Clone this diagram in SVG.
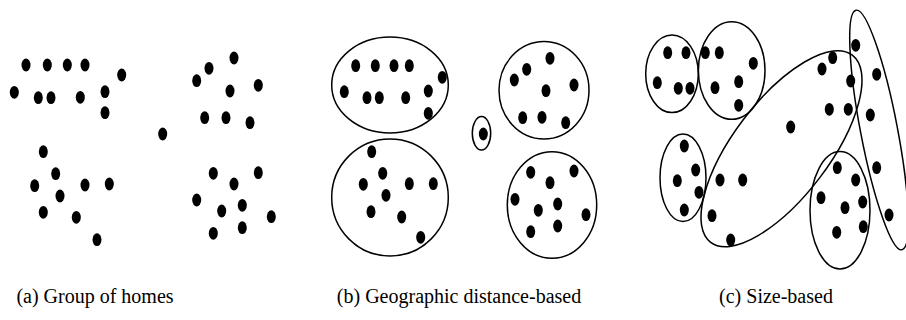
<svg xmlns="http://www.w3.org/2000/svg" width="906" height="320" viewBox="0 0 906 320">
<style>
.c{fill:none;stroke:#000;stroke-width:1.5}
.lbl{font-family:"Liberation Serif","Times New Roman","DejaVu Serif",serif;font-size:20px;fill:#000;text-anchor:middle}
</style>
<defs><ellipse id="h" cx="0" cy="0" rx="4.5" ry="6.4" fill="#000"/></defs>
<rect width="906" height="320" fill="#fff"/>
<g id="panel-a">
<use href="#h" x="26" y="65"/><use href="#h" x="47.3" y="65"/><use href="#h" x="67.3" y="65"/><use href="#h" x="85" y="65"/><use href="#h" x="121.7" y="75"/>
<use href="#h" x="14.3" y="92.3"/><use href="#h" x="38.3" y="97.7"/><use href="#h" x="51" y="97.7"/><use href="#h" x="80.3" y="97.3"/><use href="#h" x="105" y="91.7"/><use href="#h" x="105" y="112.7"/>
<use href="#h" x="234" y="58"/><use href="#h" x="209" y="68.3"/><use href="#h" x="196.7" y="80.7"/><use href="#h" x="230" y="91"/><use href="#h" x="258.3" y="85.3"/><use href="#h" x="204.7" y="117.7"/><use href="#h" x="226" y="117.7"/><use href="#h" x="250" y="122.7"/>
<use href="#h" x="162.7" y="134"/>
<use href="#h" x="43.3" y="151.7"/><use href="#h" x="55.7" y="173.7"/><use href="#h" x="34.7" y="185.7"/><use href="#h" x="60" y="196"/><use href="#h" x="85" y="185"/><use href="#h" x="109.3" y="184"/><use href="#h" x="43.3" y="212.3"/><use href="#h" x="76.3" y="217.3"/><use href="#h" x="97" y="239.7"/>
<use href="#h" x="213.3" y="173.3"/><use href="#h" x="234" y="184"/><use href="#h" x="258.3" y="172.7"/><use href="#h" x="196.7" y="200"/><use href="#h" x="221.7" y="211"/><use href="#h" x="242.3" y="205.3"/><use href="#h" x="271.3" y="216.7"/><use href="#h" x="213.3" y="233.3"/><use href="#h" x="242.3" y="227.7"/>
</g>
<g id="panel-b">
<g id="b-cluster-1">
<ellipse class="c" cx="390" cy="85" rx="58.3" ry="47.9"/>
<use href="#h" x="355.7" y="65.7"/><use href="#h" x="375.3" y="65.7"/><use href="#h" x="394" y="65.7"/><use href="#h" x="409.3" y="65.7"/><use href="#h" x="442.3" y="77.3"/>
<use href="#h" x="344.3" y="91.7"/><use href="#h" x="367" y="97.7"/><use href="#h" x="379.3" y="97.7"/><use href="#h" x="405.7" y="97.7"/><use href="#h" x="428.3" y="91"/><use href="#h" x="428.3" y="113.3"/>
</g>
<g id="b-cluster-2">
<ellipse class="c" cx="544" cy="90.3" rx="45" ry="48.7"/>
<use href="#h" x="550" y="58.3"/><use href="#h" x="526.7" y="69.3"/><use href="#h" x="514.3" y="80"/><use href="#h" x="546" y="90.7"/><use href="#h" x="574" y="85"/><use href="#h" x="522.7" y="117.7"/><use href="#h" x="542" y="117.3"/><use href="#h" x="565.7" y="122.7"/>
</g>
<g id="b-cluster-3">
<ellipse class="c" cx="481.5" cy="133.3" rx="9.2" ry="16.7"/>
<use href="#h" x="483.3" y="134"/>
</g>
<g id="b-cluster-4">
<ellipse class="c" cx="390" cy="197.5" rx="58.3" ry="58.5"/>
<use href="#h" x="371.7" y="151.7"/><use href="#h" x="382.7" y="173.3"/><use href="#h" x="363.3" y="184.3"/><use href="#h" x="386" y="195.3"/><use href="#h" x="409.3" y="183.7"/><use href="#h" x="433.3" y="183.7"/><use href="#h" x="371" y="211.7"/><use href="#h" x="401.7" y="217"/><use href="#h" x="420.7" y="237.3"/>
</g>
<g id="b-cluster-5">
<ellipse class="c" cx="552" cy="205" rx="44.7" ry="53.3"/>
<use href="#h" x="530.7" y="172.3"/><use href="#h" x="550" y="182.7"/><use href="#h" x="574" y="171"/><use href="#h" x="515" y="199.3"/><use href="#h" x="538.3" y="210.3"/><use href="#h" x="557.7" y="204"/><use href="#h" x="586" y="214.7"/><use href="#h" x="530.7" y="231.7"/><use href="#h" x="557.7" y="226"/>
</g>
</g>
<g id="panel-c">
<g id="c-cluster-1">
<ellipse class="c" cx="672" cy="73.8" rx="26.3" ry="38.8"/>
<use href="#h" x="667.7" y="52.7"/><use href="#h" x="686" y="52.7"/><use href="#h" x="657.3" y="82.7"/><use href="#h" x="678.3" y="88.3"/><use href="#h" x="690" y="88.3"/>
</g>
<g id="c-cluster-2">
<ellipse class="c" cx="731.7" cy="70.5" rx="33.3" ry="48.8"/>
<use href="#h" x="705.3" y="52.7"/><use href="#h" x="719.3" y="52.7"/><use href="#h" x="753.3" y="63.3"/><use href="#h" x="715" y="87.7"/><use href="#h" x="738.7" y="81.7"/><use href="#h" x="738.7" y="105.3"/>
</g>
<g id="c-cluster-3">
<ellipse class="c" cx="683" cy="177.8" rx="23" ry="43.8"/>
<use href="#h" x="684.3" y="146"/><use href="#h" x="695.7" y="170"/><use href="#h" x="677.3" y="180.7"/><use href="#h" x="699" y="192.3"/><use href="#h" x="684.3" y="210"/>
</g>
<g id="c-cluster-4">
<ellipse class="c" cx="0" cy="0" rx="117.4" ry="48" transform="translate(781.5 148.7) rotate(-52.9)"/>
<use href="#h" x="720" y="180"/><use href="#h" x="742.7" y="180"/><use href="#h" x="712" y="215.7"/><use href="#h" x="730.7" y="240"/><use href="#h" x="790.7" y="127"/>
<use href="#h" x="832.7" y="57.7"/><use href="#h" x="822" y="69"/><use href="#h" x="850.7" y="81"/><use href="#h" x="829.3" y="109.3"/><use href="#h" x="848.3" y="109.3"/>
</g>
<g id="c-cluster-5">
<ellipse class="c" cx="0" cy="0" rx="18.5" ry="122" transform="translate(879 130) rotate(-10.85)"/>
<use href="#h" x="855.7" y="45.3"/><use href="#h" x="876.7" y="74.3"/><use href="#h" x="870.3" y="115"/><use href="#h" x="876.7" y="167.7"/><use href="#h" x="889" y="215"/>
</g>
<g id="c-cluster-6">
<ellipse class="c" cx="840" cy="210.3" rx="30" ry="58.7"/>
<use href="#h" x="837.3" y="167.7"/><use href="#h" x="855.7" y="180"/><use href="#h" x="821" y="197.7"/><use href="#h" x="845" y="207.7"/><use href="#h" x="862.7" y="202"/><use href="#h" x="836.7" y="232.3"/><use href="#h" x="863.3" y="226.7"/>
</g>
</g>
<g id="labels">
<text class="lbl" x="95" y="303" font-family="Liberation Serif, serif">(a) Group of homes</text>
<text class="lbl" x="459" y="303" font-family="Liberation Serif, serif">(b) Geographic distance-based</text>
<text class="lbl" x="776" y="303" font-family="Liberation Serif, serif">(c) Size-based</text>
</g>
</svg>
